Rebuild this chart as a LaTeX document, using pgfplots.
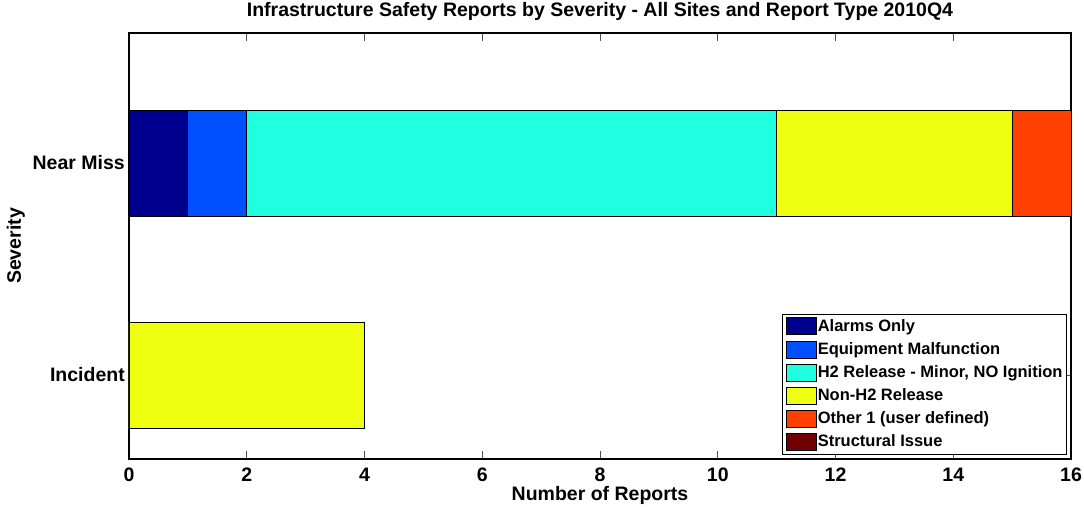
\documentclass[border=0pt]{standalone}
\usepackage{pgfplots}
\pgfplotsset{compat=1.18}
\usepackage{fontspec}
\setmainfont{Liberation Sans}
\definecolor{cA}{RGB}{0,0,143}
\definecolor{cB}{RGB}{0,80,255}
\definecolor{cC}{RGB}{32,255,223}
\definecolor{cD}{RGB}{238,255,16}
\definecolor{cE}{RGB}{255,64,0}
\definecolor{cF}{RGB}{112,0,0}
\begin{document}
\begin{tikzpicture}
\begin{axis}[
  at={(0,0)}, anchor=south west,
  scale only axis, width=942pt, height=426pt,
  xbar stacked, bar width=0.5,
  xmin=0, xmax=16, ymin=0.604, ymax=2.613,
  xtick={0,2,...,16},
  ytick={1,2}, yticklabels={Incident,Near Miss},
  tick align=inside, major tick length=8pt,
  tick style={black!70, line width=0.6pt},
  axis line style={line width=1.2pt},
  font=\bfseries,
  every tick label/.append style={font=\fontsize{19.5}{21}\selectfont\bfseries},
  /pgf/number format/assume math mode=true,
  xticklabel style={anchor=base, yshift=-22pt},
  yticklabel style={anchor=east, inner sep=0pt, xshift=-4pt},
  title={Infrastructure Safety Reports by Severity - All Sites and Report Type 2010Q4},
  title style={font=\fontsize{19.5}{21}\selectfont\bfseries, at={(axis description cs:0.5,1)}, anchor=base, yshift=10pt},
  xlabel={Number of Reports},
  xlabel style={font=\fontsize{19.5}{21}\selectfont\bfseries, at={(axis description cs:0.5,0)}, anchor=base, yshift=-41pt},
  ylabel={Severity},
  ylabel style={font=\fontsize{19.5}{21}\selectfont\bfseries, at={([xshift=-108pt]axis description cs:0,0.5)}, anchor=base, rotate=0},
  legend style={at={(axis description cs:0.9958,0.3404)}, anchor=north east,
    draw=black, line width=1pt, fill=white,
    font=\fontsize{16.5}{18}\selectfont\bfseries,
    row sep=5pt, inner sep=3pt,
    nodes={inner sep=1pt, text height=12pt, text depth=3.5pt}},
  legend cell align=left,
  legend image code/.code={\draw[#1, line width=0.8pt] (0pt,-8pt) rectangle (30pt,9pt);},
]
\addplot[fill=cA, draw=black, line width=0.8pt] coordinates {(0,1) (1,2)};
\addplot[fill=cB, draw=black, line width=0.8pt] coordinates {(0,1) (1,2)};
\addplot[fill=cC, draw=black, line width=0.8pt] coordinates {(0,1) (9,2)};
\addplot[fill=cD, draw=black, line width=0.8pt] coordinates {(4,1) (4,2)};
\addplot[fill=cE, draw=black, line width=0.8pt] coordinates {(0,1) (1,2)};
\addplot[fill=cF, draw=black, line width=0.8pt] coordinates {(0,1) (0,2)};
\legend{Alarms Only, Equipment Malfunction, {H2 Release - Minor, NO Ignition}, Non-H2 Release, Other 1 (user defined), Structural Issue}
\end{axis}
\pgfresetboundingbox
\path[use as bounding box] (-129pt,-47pt) rectangle (955pt,459pt);
\end{tikzpicture}
\end{document}
